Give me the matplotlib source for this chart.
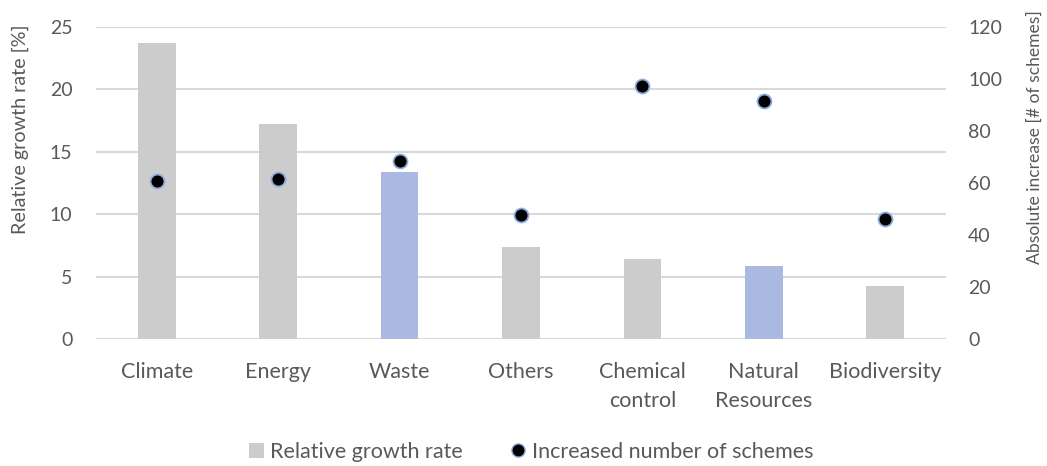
import matplotlib
matplotlib.use("Agg")
import matplotlib.pyplot as plt
from matplotlib.lines import Line2D
from matplotlib.patches import Patch

categories = ["Climate", "Energy", "Waste", "Others", "Chemical\ncontrol",
              "Natural\nResources", "Biodiversity"]
growth_rate = [23.7, 17.2, 13.4, 7.4, 6.4, 5.9, 4.3]
schemes_increase = [60.6, 61.5, 68.4, 47.8, 97.3, 91.4, 46.0]
highlighted = ["Waste", "Natural\nResources"]

GRAY = "#CCCCCC"
BLUE = "#A9B9E0"
TEXT = "#595959"
GRID = "#D9D9D9"

plt.rcParams["font.family"] = ["Lato", "DejaVu Sans"]

fig = plt.figure(figsize=(10.47, 4.66), dpi=100)
ax = fig.add_axes([96 / 1047, 1 - 339.3 / 466, (946 - 96) / 1047, (339.3 - 26.7) / 466])
ax2 = ax.twinx()

x = list(range(len(categories)))
colors = [BLUE if c in highlighted else GRAY for c in categories]
ax.bar(x, growth_rate, width=0.31, color=colors, zorder=2)
ax.set_xlim(-0.5, len(categories) - 0.5)
ax.set_ylim(0, 25)
ax.set_yticks(range(0, 26, 5))
ax.yaxis.grid(True, color=GRID, linewidth=1.5, zorder=0)
ax.set_axisbelow(True)

ax2.scatter(x, schemes_increase, s=100, color="black", edgecolors="#8FAADC",
            linewidths=1.3, zorder=3)
ax2.set_ylim(0, 120)
ax2.set_yticks(range(0, 121, 20))

for a in (ax, ax2):
    for side in ("top", "left", "right", "bottom"):
        a.spines[side].set_visible(False)
    a.tick_params(length=0, labelsize=14, colors=TEXT)

ax.axhline(0, color=GRID, linewidth=1.5, zorder=1)
ax.set_xticks(x)
ax.set_xticklabels(categories, fontsize=15.5, color=TEXT, linespacing=1.55)
ax.tick_params(axis="x", pad=16.5)
ax.tick_params(axis="y", pad=17)
ax2.tick_params(axis="y", pad=16)

ax.set_ylabel("Relative growth rate [%]", fontsize=14.2, color=TEXT, va="center")
ax.yaxis.set_label_coords(-0.0894, 0.673)
ax2.set_ylabel("Absolute increase [# of schemes]", fontsize=12.6, color=TEXT, va="center")
ax2.yaxis.set_label_coords(1.1047, 0.647)

handles = [
    Patch(facecolor=GRAY, edgecolor="none", label="Relative growth rate"),
    Line2D([], [], linestyle="none", marker="o", markersize=9.5,
           markerfacecolor="black", markeredgecolor="#8FAADC",
           label="Increased number of schemes"),
]
fig.legend(handles=handles, loc="center", bbox_to_anchor=(531 / 1047, 1 - 452 / 466),
           ncol=2, frameon=False, fontsize=15.5, labelcolor=TEXT,
           handlelength=0.7, handleheight=0.7, handletextpad=0.3, columnspacing=2.2)

fig.savefig("out.png", dpi=100)
